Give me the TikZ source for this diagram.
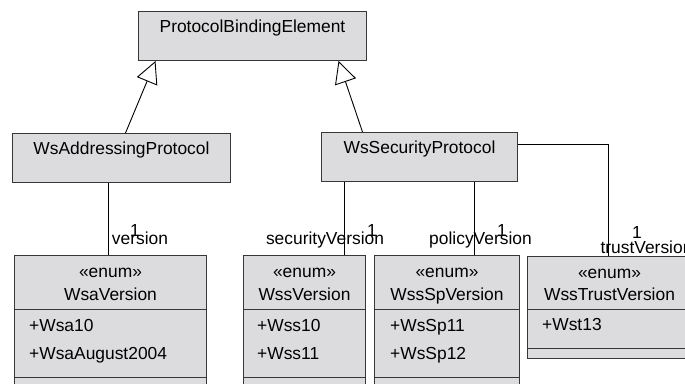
\documentclass[tikz,border=0pt]{standalone}
\usepackage{fontspec}
\setmainfont{Liberation Sans}
\usetikzlibrary{arrows.meta,calc}
\definecolor{boxfill}{RGB}{220,220,222}
\definecolor{boxline}{RGB}{55,55,55}
\begin{document}
\begin{tikzpicture}[x=1pt,y=-1pt,
  umlbox/.style={draw=boxline, fill=boxfill, line width=1pt, inner sep=0pt,
                 anchor=north west},
  divider/.style={draw=boxline, line width=1pt},
  txt/.style={font=\fontsize{17.4}{20}\selectfont, inner sep=0pt, anchor=base},
  attr/.style={txt, anchor=base west},
  link/.style={draw=black, line width=0.9pt},
  inherit/.style={link, -{Triangle[open, length=22pt, width=22pt, line width=0.9pt]}}]

\useasboundingbox (0,0) rectangle (685,383);
\clip (0,0) rectangle (685,383);

% ---------- classes ----------
\node[umlbox, minimum width=228pt, minimum height=49pt] (pbe) at (138,11) {};
\node[txt] at ($(pbe.north)+(0,21)$) {ProtocolBindingElement};

\node[umlbox, minimum width=218pt, minimum height=49pt] (wap) at (12,133) {};
\node[txt] at ($(wap.north)+(0,21)$) {WsAddressingProtocol};

\node[umlbox, minimum width=196pt, minimum height=49pt] (wsp) at (321,132) {};
\node[txt] at ($(wsp.north)+(0,21)$) {WsSecurityProtocol};

% ---------- enumerations ----------
\node[umlbox, minimum width=192pt, minimum height=140pt] (wsa) at (14,255) {};
\node[umlbox, minimum width=122pt, minimum height=140pt] (wss) at (243,255) {};
\node[umlbox, minimum width=145pt, minimum height=140pt] (wssp) at (374,255) {};
\node[umlbox, minimum width=164pt, minimum height=102pt] (wst) at (527,256) {};

\foreach \n in {wsa,wss,wssp}{
  \draw[divider] ($(\n.north west)+(0,54)$) -- ($(\n.north east)+(0,54)$);
  \draw[divider] ($(\n.north west)+(0,122)$) -- ($(\n.north east)+(0,122)$);
  \node[txt] at ($(\n.north)+(0,22)$) {«enum»};
}
\draw[divider] ($(wst.north west)+(0,53)$) -- ($(wst.north east)+(0,53)$);
\draw[divider] ($(wst.north west)+(0,92)$) -- ($(wst.north east)+(0,92)$);
\node[txt] at ($(wst.north)+(0,22)$) {«enum»};

\node[txt] at ($(wsa.north)+(0,45)$) {WsaVersion};
\node[attr] at ($(wsa.north west)+(15,76)$) {+Wsa10};
\node[attr] at ($(wsa.north west)+(15,104)$) {+WsaAugust2004};

\node[txt] at ($(wss.north)+(0,45)$) {WssVersion};
\node[attr] at ($(wss.north west)+(14,76)$) {+Wss10};
\node[attr] at ($(wss.north west)+(14,104)$) {+Wss11};

\node[txt] at ($(wssp.north)+(0,45)$) {WssSpVersion};
\node[attr] at ($(wssp.north west)+(16,76)$) {+WsSp11};
\node[attr] at ($(wssp.north west)+(16,104)$) {+WsSp12};

\node[txt] at ($(wst.north)+(0,44)$) {WssTrustVersion};
\node[attr] at ($(wst.north west)+(15,74)$) {+Wst13};

% ---------- generalizations ----------
\draw[inherit] ([xshift=4pt]wap.north) -- ([xshift=-97pt]pbe.south);
\draw[inherit] ([xshift=-57pt]wsp.north) -- ([xshift=86pt]pbe.south);

% ---------- associations ----------
\draw[link] ([xshift=-13pt]wap.south) -- ([xshift=-2pt]wsa.north);
\draw[link] ([xshift=-75pt]wsp.south) -- ([xshift=40pt]wss.north);
\draw[link] ([xshift=55pt]wsp.south) -- ([xshift=27.5pt]wssp.north);
\draw[link] ([yshift=12.5pt]wsp.east) -| ([xshift=-1pt]wst.north);

% ---------- role names and multiplicities ----------
\node[txt] at (140,244) {version};
\node[txt] at (135,236) {1};
\node[txt] at (325,244) {securityVersion};
\node[txt] at (372,236) {1};
\node[txt] at (480.5,244) {policyVersion};
\node[txt] at (502,236) {1};
\node[txt] at (637,238) {1};
\begin{scope}
  \node[txt] at (646.5,253) {trustVersion};
\end{scope}
\end{tikzpicture}
\end{document}
